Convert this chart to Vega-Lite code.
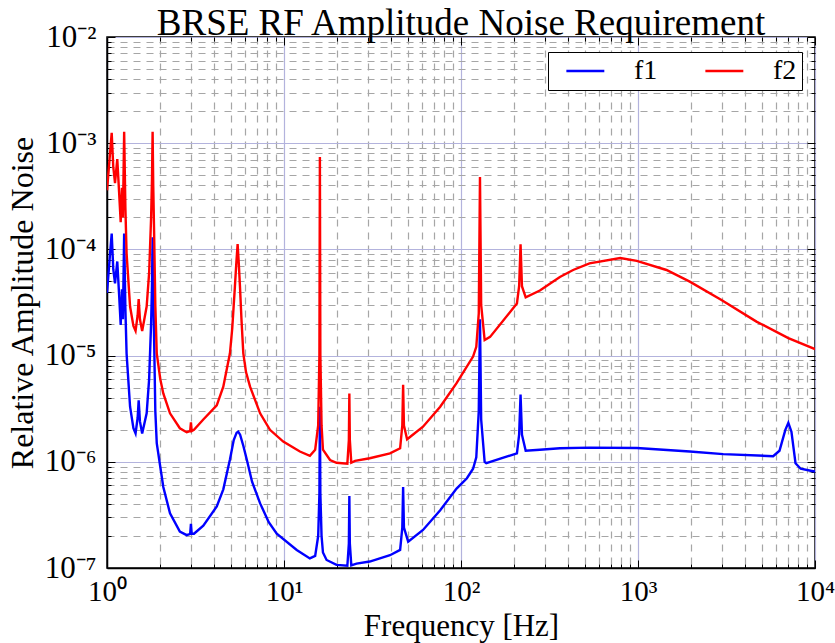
{
  "$schema": "https://vega.github.io/schema/vega-lite/v6.json",
  "width": 708,
  "height": 531,
  "autosize": {"type": "none"},
  "padding": {"left": 107, "top": 37, "right": 20, "bottom": 75},
  "background": "white",
  "title": {"text": "BRSE RF Amplitude Noise Requirement", "font": "Liberation Serif", "fontSize": 37, "fontWeight": "normal", "color": "black", "anchor": "middle", "offset": 0, "dy": 22},
  "config": {
    "view": {"stroke": "black", "strokeWidth": 1.5},
    "axis": {"domainColor": "black", "domainWidth": 1.5}
  },
  "data": {"values": [
    {"f":1.0,"v":3.9e-5,"s":"f1"},{"f":1.04,"v":9e-5,"s":"f1"},{"f":1.063,"v":1.41e-4,"s":"f1"},{"f":1.085,"v":6.5e-5,"s":"f1"},{"f":1.11,"v":4.8e-5,"s":"f1"},{"f":1.143,"v":7.7e-5,"s":"f1"},{"f":1.17,"v":3.8e-5,"s":"f1"},{"f":1.195,"v":1.94e-5,"s":"f1"},{"f":1.215,"v":4.2e-5,"s":"f1"},{"f":1.23,"v":2.2e-5,"s":"f1"},{"f":1.25,"v":1.41e-4,"s":"f1"},{"f":1.27,"v":2.8e-5,"s":"f1"},{"f":1.29,"v":1.05e-5,"s":"f1"},{"f":1.35,"v":3.3e-6,"s":"f1"},{"f":1.41,"v":2.07e-6,"s":"f1"},{"f":1.45,"v":1.85e-6,"s":"f1"},{"f":1.49,"v":2.6e-6,"s":"f1"},{"f":1.51,"v":3.8e-6,"s":"f1"},{"f":1.535,"v":2.4e-6,"s":"f1"},{"f":1.58,"v":1.85e-6,"s":"f1"},{"f":1.675,"v":2.86e-6,"s":"f1"},{"f":1.73,"v":6e-6,"s":"f1"},{"f":1.775,"v":2e-5,"s":"f1"},{"f":1.795,"v":4.5e-5,"s":"f1"},{"f":1.81,"v":1.3e-4,"s":"f1"},{"f":1.825,"v":4e-5,"s":"f1"},{"f":1.845,"v":1.5e-5,"s":"f1"},{"f":1.875,"v":3e-6,"s":"f1"},{"f":1.91,"v":1.5e-6,"s":"f1"},{"f":2.08,"v":5.8e-7,"s":"f1"},{"f":2.27,"v":3.27e-7,"s":"f1"},{"f":2.58,"v":2.2e-7,"s":"f1"},{"f":2.82,"v":2.04e-7,"s":"f1"},{"f":2.95,"v":2.1e-7,"s":"f1"},{"f":2.98,"v":2.6e-7,"s":"f1"},{"f":3.01,"v":2.1e-7,"s":"f1"},{"f":3.1,"v":2.1e-7,"s":"f1"},{"f":3.5,"v":2.5e-7,"s":"f1"},{"f":4.17,"v":3.8e-7,"s":"f1"},{"f":4.54,"v":5.5e-7,"s":"f1"},{"f":4.95,"v":1.05e-6,"s":"f1"},{"f":5.2,"v":1.6e-6,"s":"f1"},{"f":5.4,"v":1.88e-6,"s":"f1"},{"f":5.51,"v":1.92e-6,"s":"f1"},{"f":5.65,"v":1.8e-6,"s":"f1"},{"f":5.9,"v":1.4e-6,"s":"f1"},{"f":6.16,"v":1.05e-6,"s":"f1"},{"f":6.6,"v":6.5e-7,"s":"f1"},{"f":7.33,"v":4.06e-7,"s":"f1"},{"f":8.2,"v":2.7e-7,"s":"f1"},{"f":9.1,"v":2.1e-7,"s":"f1"},{"f":11.8,"v":1.48e-7,"s":"f1"},{"f":14.0,"v":1.23e-7,"s":"f1"},{"f":15.0,"v":1.3e-7,"s":"f1"},{"f":15.6,"v":2.0e-7,"s":"f1"},{"f":15.85,"v":5e-7,"s":"f1"},{"f":15.95,"v":3.3e-6,"s":"f1"},{"f":16.05,"v":5e-7,"s":"f1"},{"f":16.3,"v":2.0e-7,"s":"f1"},{"f":16.6,"v":1.4e-7,"s":"f1"},{"f":17.4,"v":1.19e-7,"s":"f1"},{"f":19.8,"v":1.07e-7,"s":"f1"},{"f":22.8,"v":1.05e-7,"s":"f1"},{"f":23.25,"v":1.7e-7,"s":"f1"},{"f":23.4,"v":4.77e-7,"s":"f1"},{"f":23.55,"v":1.7e-7,"s":"f1"},{"f":24,"v":1.06e-7,"s":"f1"},{"f":25.7,"v":1.1e-7,"s":"f1"},{"f":30.5,"v":1.15e-7,"s":"f1"},{"f":39.7,"v":1.32e-7,"s":"f1"},{"f":45.3,"v":1.48e-7,"s":"f1"},{"f":46.6,"v":2.4e-7,"s":"f1"},{"f":47.1,"v":5.8e-7,"s":"f1"},{"f":47.6,"v":2.4e-7,"s":"f1"},{"f":50.3,"v":1.77e-7,"s":"f1"},{"f":61,"v":2.28e-7,"s":"f1"},{"f":76.3,"v":3.5e-7,"s":"f1"},{"f":94.4,"v":5.6e-7,"s":"f1"},{"f":108,"v":7.0e-7,"s":"f1"},{"f":117,"v":8.6e-7,"s":"f1"},{"f":122,"v":1.1e-6,"s":"f1"},{"f":126,"v":3e-6,"s":"f1"},{"f":128,"v":2.2e-5,"s":"f1"},{"f":130,"v":2.5e-6,"s":"f1"},{"f":136,"v":1.0e-6,"s":"f1"},{"f":139,"v":9.7e-7,"s":"f1"},{"f":207,"v":1.2e-6,"s":"f1"},{"f":213,"v":1.8e-6,"s":"f1"},{"f":217,"v":4.3e-6,"s":"f1"},{"f":221,"v":1.8e-6,"s":"f1"},{"f":232,"v":1.27e-6,"s":"f1"},{"f":279,"v":1.3e-6,"s":"f1"},{"f":362,"v":1.34e-6,"s":"f1"},{"f":532,"v":1.36e-6,"s":"f1"},{"f":984,"v":1.35e-6,"s":"f1"},{"f":1961,"v":1.25e-6,"s":"f1"},{"f":3030,"v":1.18e-6,"s":"f1"},{"f":5800,"v":1.13e-6,"s":"f1"},{"f":6300,"v":1.27e-6,"s":"f1"},{"f":6800,"v":2.0e-6,"s":"f1"},{"f":7070,"v":2.33e-6,"s":"f1"},{"f":7360,"v":1.92e-6,"s":"f1"},{"f":7760,"v":9.7e-7,"s":"f1"},{"f":8300,"v":8.6e-7,"s":"f1"},{"f":9600,"v":8.2e-7,"s":"f1"},{"f":10000,"v":8.1e-7,"s":"f1"},
    {"f":1.0,"v":3.6e-4,"s":"f2"},{"f":1.04,"v":8e-4,"s":"f2"},{"f":1.063,"v":1.25e-3,"s":"f2"},{"f":1.085,"v":6e-4,"s":"f2"},{"f":1.11,"v":4.2e-4,"s":"f2"},{"f":1.143,"v":7.1e-4,"s":"f2"},{"f":1.17,"v":3.5e-4,"s":"f2"},{"f":1.195,"v":1.8e-4,"s":"f2"},{"f":1.215,"v":3.8e-4,"s":"f2"},{"f":1.23,"v":2.0e-4,"s":"f2"},{"f":1.25,"v":1.28e-3,"s":"f2"},{"f":1.27,"v":2.5e-4,"s":"f2"},{"f":1.29,"v":9.2e-5,"s":"f2"},{"f":1.35,"v":2.9e-5,"s":"f2"},{"f":1.41,"v":1.9e-5,"s":"f2"},{"f":1.45,"v":1.71e-5,"s":"f2"},{"f":1.49,"v":2.4e-5,"s":"f2"},{"f":1.51,"v":3.4e-5,"s":"f2"},{"f":1.535,"v":2.2e-5,"s":"f2"},{"f":1.58,"v":1.7e-5,"s":"f2"},{"f":1.675,"v":2.9e-5,"s":"f2"},{"f":1.73,"v":6e-5,"s":"f2"},{"f":1.775,"v":2e-4,"s":"f2"},{"f":1.795,"v":4.5e-4,"s":"f2"},{"f":1.81,"v":1.28e-3,"s":"f2"},{"f":1.825,"v":4e-4,"s":"f2"},{"f":1.845,"v":1.5e-4,"s":"f2"},{"f":1.875,"v":3e-5,"s":"f2"},{"f":1.91,"v":1.05e-5,"s":"f2"},{"f":2.0,"v":6e-6,"s":"f2"},{"f":2.08,"v":4.4e-6,"s":"f2"},{"f":2.27,"v":2.86e-6,"s":"f2"},{"f":2.58,"v":2.07e-6,"s":"f2"},{"f":2.82,"v":1.9e-6,"s":"f2"},{"f":2.95,"v":1.95e-6,"s":"f2"},{"f":2.98,"v":2.35e-6,"s":"f2"},{"f":3.01,"v":1.95e-6,"s":"f2"},{"f":3.1,"v":2.0e-6,"s":"f2"},{"f":3.5,"v":2.5e-6,"s":"f2"},{"f":4.17,"v":3.4e-6,"s":"f2"},{"f":4.54,"v":5.1e-6,"s":"f2"},{"f":4.95,"v":1.05e-5,"s":"f2"},{"f":5.1,"v":1.8e-5,"s":"f2"},{"f":5.28,"v":4.46e-5,"s":"f2"},{"f":5.38,"v":7.5e-5,"s":"f2"},{"f":5.47,"v":1.12e-4,"s":"f2"},{"f":5.55,"v":7.5e-5,"s":"f2"},{"f":5.64,"v":4.46e-5,"s":"f2"},{"f":5.75,"v":2.2e-5,"s":"f2"},{"f":5.89,"v":1.05e-5,"s":"f2"},{"f":6.1,"v":7e-6,"s":"f2"},{"f":6.43,"v":5.1e-6,"s":"f2"},{"f":7.33,"v":2.86e-6,"s":"f2"},{"f":8.33,"v":2.0e-6,"s":"f2"},{"f":9.9,"v":1.55e-6,"s":"f2"},{"f":12.3,"v":1.25e-6,"s":"f2"},{"f":14.0,"v":1.14e-6,"s":"f2"},{"f":15.0,"v":1.3e-6,"s":"f2"},{"f":15.6,"v":2.2e-6,"s":"f2"},{"f":15.85,"v":1e-5,"s":"f2"},{"f":15.95,"v":7.4e-4,"s":"f2"},{"f":16.05,"v":1e-5,"s":"f2"},{"f":16.3,"v":2.2e-6,"s":"f2"},{"f":16.6,"v":1.3e-6,"s":"f2"},{"f":18.2,"v":1.04e-6,"s":"f2"},{"f":19.8,"v":9.8e-7,"s":"f2"},{"f":22.8,"v":9.6e-7,"s":"f2"},{"f":23.25,"v":1.6e-6,"s":"f2"},{"f":23.4,"v":4.4e-6,"s":"f2"},{"f":23.55,"v":1.6e-6,"s":"f2"},{"f":24.0,"v":9.8e-7,"s":"f2"},{"f":25.2,"v":1.02e-6,"s":"f2"},{"f":30.5,"v":1.08e-6,"s":"f2"},{"f":39.7,"v":1.2e-6,"s":"f2"},{"f":45.3,"v":1.34e-6,"s":"f2"},{"f":46.6,"v":2.2e-6,"s":"f2"},{"f":47.1,"v":5.3e-6,"s":"f2"},{"f":47.6,"v":2.2e-6,"s":"f2"},{"f":49.6,"v":1.63e-6,"s":"f2"},{"f":61,"v":2.14e-6,"s":"f2"},{"f":76.3,"v":3.3e-6,"s":"f2"},{"f":94.4,"v":5.5e-6,"s":"f2"},{"f":117,"v":9.8e-6,"s":"f2"},{"f":122,"v":1.21e-5,"s":"f2"},{"f":126,"v":2.5e-5,"s":"f2"},{"f":128,"v":4.8e-4,"s":"f2"},{"f":130,"v":3.0e-5,"s":"f2"},{"f":136,"v":1.4e-5,"s":"f2"},{"f":146,"v":1.5e-5,"s":"f2"},{"f":207,"v":3.1e-5,"s":"f2"},{"f":213,"v":4.5e-5,"s":"f2"},{"f":217,"v":1.12e-4,"s":"f2"},{"f":221,"v":4.5e-5,"s":"f2"},{"f":232,"v":3.54e-5,"s":"f2"},{"f":279,"v":4.1e-5,"s":"f2"},{"f":362,"v":5.5e-5,"s":"f2"},{"f":430,"v":6.4e-5,"s":"f2"},{"f":532,"v":7.4e-5,"s":"f2"},{"f":794,"v":8.3e-5,"s":"f2"},{"f":984,"v":7.8e-5,"s":"f2"},{"f":1448,"v":6.4e-5,"s":"f2"},{"f":1961,"v":4.97e-5,"s":"f2"},{"f":2962,"v":3.34e-5,"s":"f2"},{"f":4670,"v":2.09e-5,"s":"f2"},{"f":7070,"v":1.46e-5,"s":"f2"},{"f":10000,"v":1.15e-5,"s":"f2"}
  ]},
  "resolve": {"axis": {"x": "independent", "y": "independent"}},
  "layer": [
    {
      "mark": {"type": "line", "strokeWidth": 2.4, "clip": true},
      "encoding": {
        "x": {"field": "f", "type": "quantitative", "scale": {"type": "log", "domain": [1, 10000], "nice": false},
          "axis": {
            "title": "Frequency [Hz]", "titleFont": "Liberation Serif", "titleFontSize": 31, "titleFontWeight": "normal", "titleColor": "black", "titleY": 67, "titleBaseline": "alphabetic",
            "values": [1,2,3,4,5,6,7,8,9,10,20,30,40,50,60,70,80,90,100,200,300,400,500,600,700,800,900,1000,2000,3000,4000,5000,6000,7000,8000,9000,10000],
            "labelExpr": "abs(log(datum.value)/LN10 - round(log(datum.value)/LN10)) < 0.01 ? '10' + ['⁰','¹','²','³','⁴'][round(log(datum.value)/LN10)] : ''",
            "labelFont": "Liberation Serif", "labelFontSize": 29, "labelColor": "black", "labelOverlap": false, "labelBound": false, "labelFlush": false, "labelPadding": 17,
            "grid": true,
            "gridColor": {"condition": {"test": "abs(log(datum.value)/LN10 - round(log(datum.value)/LN10)) < 0.01", "value": "#b3b3dd"}, "value": "#a6a6a6"},
            "gridDash": {"condition": {"test": "abs(log(datum.value)/LN10 - round(log(datum.value)/LN10)) < 0.01", "value": []}, "value": [7, 6]},
            "gridWidth": 1.2,
            "ticks": true, "tickColor": "black",
            "tickSize": {"condition": {"test": "abs(log(datum.value)/LN10 - round(log(datum.value)/LN10)) < 0.01", "value": -8}, "value": -4}
          }
        },
        "y": {"field": "v", "type": "quantitative", "scale": {"type": "log", "domain": [1e-7, 1e-2], "nice": false},
          "axis": {
            "title": "Relative Amplitude Noise", "titleFont": "Liberation Serif", "titleFontSize": 32, "titleFontWeight": "normal", "titleColor": "black", "titlePadding": 5,
            "values": [1e-7,2e-7,3e-7,4e-7,5e-7,6e-7,7e-7,8e-7,9e-7,1e-6,2e-6,3e-6,4e-6,5e-6,6e-6,7e-6,8e-6,9e-6,1e-5,2e-5,3e-5,4e-5,5e-5,6e-5,7e-5,8e-5,9e-5,1e-4,2e-4,3e-4,4e-4,5e-4,6e-4,7e-4,8e-4,9e-4,1e-3,2e-3,3e-3,4e-3,5e-3,6e-3,7e-3,8e-3,9e-3,1e-2],
            "labelExpr": "abs(log(datum.value)/LN10 - round(log(datum.value)/LN10)) < 0.01 ? '10⁻' + ['⁰','¹','²','³','⁴','⁵','⁶','⁷','⁸','⁹'][-round(log(datum.value)/LN10)] : ''",
            "labelFont": "Liberation Serif", "labelFontSize": 31, "labelColor": "black", "labelOverlap": false, "labelBound": false, "labelFlush": false, "labelPadding": 19,
            "grid": true,
            "gridColor": {"condition": {"test": "abs(log(datum.value)/LN10 - round(log(datum.value)/LN10)) < 0.01", "value": "#b3b3dd"}, "value": "#a6a6a6"},
            "gridDash": {"condition": {"test": "abs(log(datum.value)/LN10 - round(log(datum.value)/LN10)) < 0.01", "value": []}, "value": [7, 6]},
            "gridWidth": 1.2,
            "ticks": true, "tickColor": "black",
            "tickSize": {"condition": {"test": "abs(log(datum.value)/LN10 - round(log(datum.value)/LN10)) < 0.01", "value": -8}, "value": -4}
          }
        },
        "color": {"field": "s", "type": "nominal", "scale": {"domain": ["f1", "f2"], "range": ["#0000ff", "#ff0000"]},
          "legend": {"title": null, "orient": "none", "legendX": 441, "legendY": 15, "direction": "horizontal", "columns": 2,
            "fillColor": "white", "strokeColor": "black", "padding": 5, "cornerRadius": 0,
            "symbolType": "M-0.1,0L5.9,0", "symbolSize": 160, "symbolStrokeWidth": 2.5, "labelOffset": 53, "columnPadding": 34,
            "labelFont": "Liberation Serif", "labelFontSize": 28, "labelColor": "black"}
        }
      }
    },
    {
      "mark": {"type": "line", "opacity": 0, "strokeOpacity": 0},
      "encoding": {
        "detail": {"field": "s", "type": "nominal"},
        "x": {"field": "f", "type": "quantitative",
          "axis": {"orient": "top", "title": null, "labels": false, "grid": false, "domain": false,
            "values": [1,2,3,4,5,6,7,8,9,10,20,30,40,50,60,70,80,90,100,200,300,400,500,600,700,800,900,1000,2000,3000,4000,5000,6000,7000,8000,9000,10000],
            "ticks": true, "tickColor": "black",
            "tickSize": {"condition": {"test": "abs(log(datum.value)/LN10 - round(log(datum.value)/LN10)) < 0.01", "value": -8}, "value": -4}}
        },
        "y": {"field": "v", "type": "quantitative",
          "axis": {"orient": "right", "title": null, "labels": false, "grid": false, "domain": false,
            "values": [1e-7,2e-7,3e-7,4e-7,5e-7,6e-7,7e-7,8e-7,9e-7,1e-6,2e-6,3e-6,4e-6,5e-6,6e-6,7e-6,8e-6,9e-6,1e-5,2e-5,3e-5,4e-5,5e-5,6e-5,7e-5,8e-5,9e-5,1e-4,2e-4,3e-4,4e-4,5e-4,6e-4,7e-4,8e-4,9e-4,1e-3,2e-3,3e-3,4e-3,5e-3,6e-3,7e-3,8e-3,9e-3,1e-2],
            "ticks": true, "tickColor": "black",
            "tickSize": {"condition": {"test": "abs(log(datum.value)/LN10 - round(log(datum.value)/LN10)) < 0.01", "value": -8}, "value": -4}}
        }
      }
    }
  ]
}
